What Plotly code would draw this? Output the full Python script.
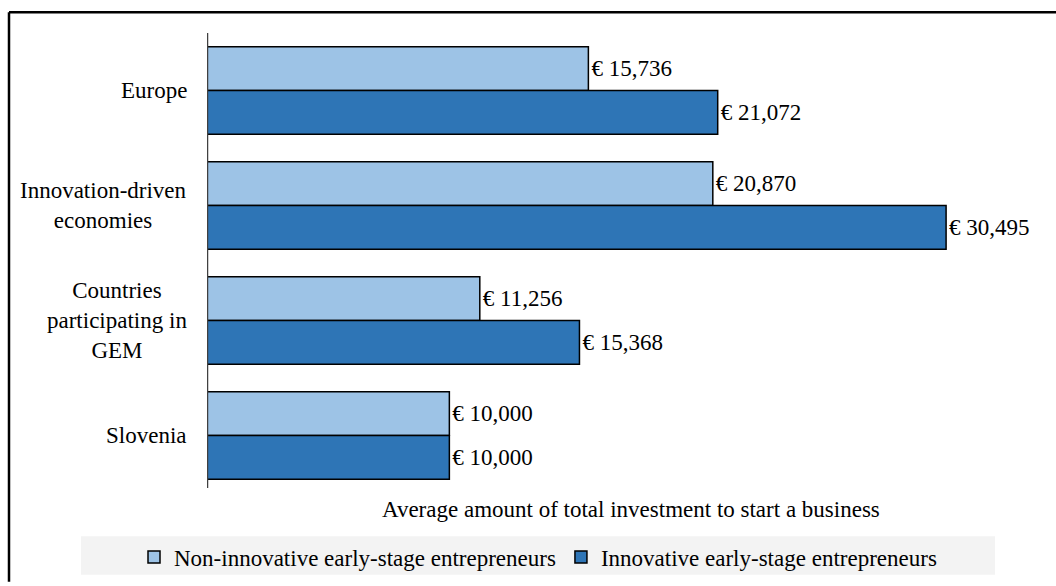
import plotly.graph_objects as go

categories = ["Europe", "Innovation-driven economies", "Countries participating in GEM", "Slovenia"]
category_labels = ["Europe", "Innovation-driven<br>economies", "Countries<br>participating in<br>GEM", "Slovenia"]
non_innovative = [15736, 20870, 11256, 10000]
innovative = [21072, 30495, 15368, 10000]
series_names = ["Non-innovative early-stage entrepreneurs", "Innovative early-stage entrepreneurs"]
axis_title = "Average amount of total investment to start a business"

FONT = "Liberation Serif, Times New Roman, serif"
FS = 23
W, H = 1056, 586
L, R, T, B = 207, 8, 33, 86
pw, ph = W - L - R, H - T - B
XMAX = 34700

def px_x(px):
    return (px - L) / pw

def px_y(py):
    return (H - B - py) / ph

fig = go.Figure()
for name, vals, col in [(series_names[0], non_innovative, "#9DC3E6"),
                        (series_names[1], innovative, "#2E75B6")]:
    fig.add_trace(go.Bar(
        y=categories, x=vals, orientation="h", name=name,
        marker=dict(color=col, line=dict(color="black", width=1.5)),
        texttemplate="€ %{x:,}", textposition="outside",
        textfont=dict(family=FONT, size=FS, color="black"),
        cliponaxis=False,
    ))

annotations = []
for cat, lab in zip(categories, category_labels):
    annotations.append(dict(x=px_x(189), xref="paper", y=cat, yref="y",
                            text=lab, showarrow=False, xanchor="right",
                            align="center", font=dict(family=FONT, size=FS, color="black")))
annotations.append(dict(x=px_x(631), xref="paper", y=px_y(517), yref="paper",
                        text=axis_title, showarrow=False, xanchor="center", yanchor="middle",
                        font=dict(family=FONT, size=FS, color="black")))

shapes = [
    # legend background band
    dict(type="rect", xref="paper", yref="paper", x0=px_x(81), x1=px_x(995),
         y0=px_y(583), y1=px_y(544), fillcolor="#F3F3F3", line=dict(width=0), layer="below"),
    # outer frame: top and left edges
    dict(type="line", xref="paper", yref="paper", x0=px_x(9), x1=px_x(1060),
         y0=px_y(12), y1=px_y(12), line=dict(color="black", width=2.5)),
    dict(type="line", xref="paper", yref="paper", x0=px_x(9), x1=px_x(9),
         y0=px_y(12), y1=px_y(590), line=dict(color="black", width=2.5)),
    # category axis line
    dict(type="line", xref="x", yref="paper", x0=0, x1=0, y0=px_y(495), y1=px_y(33),
         line=dict(color="#404040", width=2.5)),
]

fig.update_layout(
    width=W, height=H,
    margin=dict(l=L, r=R, t=T, b=B),
    paper_bgcolor="white", plot_bgcolor="white",
    barmode="group", bargap=0.24, bargroupgap=0,
    font=dict(family=FONT, size=FS, color="black"),
    xaxis=dict(range=[0, XMAX], visible=False),
    yaxis=dict(autorange="reversed", showticklabels=False, ticks="",
               showline=False, showgrid=False, zeroline=False),
    legend=dict(orientation="h", x=px_x(538), xanchor="center", y=px_y(565), yanchor="middle",
                bgcolor="rgba(0,0,0,0)", font=dict(family=FONT, size=FS, color="black"),
                traceorder="normal", itemwidth=30),
    annotations=annotations,
    shapes=shapes,
    showlegend=True,
)

fig.write_html("out.html", config={"displayModeBar": False},
               post_script="document.body.style.margin='0';document.body.style.overflow='hidden';")
